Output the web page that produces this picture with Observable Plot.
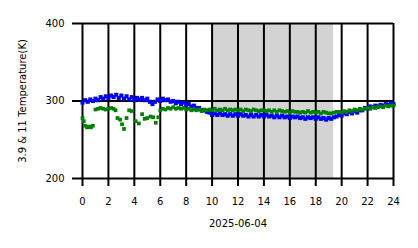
<!DOCTYPE html>
<html>
<head>
<meta charset="utf-8">
<script src="https://cdn.jsdelivr.net/npm/d3@7"></script>
<script src="https://cdn.jsdelivr.net/npm/@observablehq/plot@0.6"></script>
<style>
  html, body { margin: 0; padding: 0; background: #fff; }
  #chart svg { display: block; }
</style>
</head>
<body>
<div id="chart"></div>
<script>
// ---- data ----
const xTicks = [0, 2, 4, 6, 8, 10, 12, 14, 16, 18, 20, 22, 24];
const yTicks = [200, 300, 400];
const dateLabel = "2025-06-04";
const yLabel = "3.9 & 11 Temperature(K)";
const shade = [10.08, 19.38];

// 3.9 µm brightness temperature, sampled every 0.2 h from 0 to 24
const blueStep = 0.2;
const blueValues = [
  298, 301, 299, 302, 300,
  303, 301, 305, 303, 306,
  304, 307, 305, 308, 304,
  307, 303, 306, 302, 305,
  301, 304, 302, 304, 301,
  303, 299, 296, 299, 302,
  300, 303, 301, 302, 299,
  300, 297, 299, 296, 298,
  295, 296, 293, 294, 291,
  291, 288, 288, 286, 285,
  282, 284, 282, 284, 282,
  283, 281, 283, 281, 283,
  281, 283, 281, 282, 280,
  282, 280, 282, 280, 282,
  280, 282, 280, 281, 279,
  281, 279, 281, 279, 280,
  278, 280, 279, 280, 278,
  279, 277, 279, 278, 279,
  277, 279, 277, 278, 276,
  278, 277, 279, 280, 282,
  281, 284, 283, 286, 284,
  287, 285, 288, 288, 291,
  290, 293, 292, 294, 293,
  295, 294, 296, 295, 297,
  296
];

// 11 µm brightness temperature: early irregular samples
const greenEarlyTimes = [0.0, 0.1, 0.2, 0.35, 0.5, 0.65, 0.8, 1.0, 1.2, 1.4, 1.6, 1.8, 2.0, 2.2, 2.4, 2.55,
  2.7, 2.9, 3.05, 3.2, 3.4, 3.6, 3.8, 4.1, 4.35, 4.6, 4.8, 5.0, 5.25, 5.45, 5.65, 5.85];
const greenEarlyValues = [278, 274, 268, 266, 267, 266, 268, 289, 290, 291, 290, 289, 290, 291, 290, 288,
  278, 276, 270, 264, 278, 288, 287, 274, 271, 283, 277, 278, 280, 279, 272, 279];
// 11 µm, every 0.2 h from 6.0 to 24
const greenStart = 6.0;
const greenValues = [
  288, 290, 289, 291, 290,
  292, 290, 291, 290, 291,
  289, 290, 288, 289, 288,
  289, 287, 289, 288, 289,
  288, 290, 288, 289, 288,
  290, 288, 289, 288, 289,
  288, 289, 287, 289, 288,
  287, 289, 288, 287, 288,
  288, 287, 288, 286, 288,
  286, 288, 287, 286, 287,
  285, 287, 286, 286, 285,
  286, 285, 287, 285, 286,
  285, 286, 284, 286, 285,
  284, 284, 285, 286, 286,
  285, 287, 286, 288, 287,
  289, 288, 290, 289, 290,
  291, 290, 292, 291, 292,
  293, 292, 294, 293, 294,
  294
];

// ---- build tables ----
const blue = blueValues.map((v, i) => ({t: i * blueStep, v}));
const green = [
  ...greenEarlyTimes.map((t, i) => ({t, v: greenEarlyValues[i]})),
  ...greenValues.map((v, i) => ({t: greenStart + i * 0.2, v}))
];

const chart = Plot.plot({
  width: 418,
  height: 248,
  marginLeft: 82,
  marginRight: 25,
  marginTop: 23,
  marginBottom: 70,
  style: {fontFamily: "DejaVu Sans", fontSize: "10px", background: "#fff", color: "#000"},
  x: {domain: [0, 24]},
  y: {domain: [200, 400]},
  marks: [
    Plot.rect([shade], {x1: d => d[0], x2: d => d[1], y1: 200, y2: 400, fill: "#d3d3d3"}),
    Plot.ruleX(xTicks, {stroke: "#000", strokeWidth: 2}),
    Plot.ruleY(yTicks, {stroke: "#000", strokeWidth: 2}),
    Plot.axisX(xTicks, {tickSize: 8, tickPadding: 11, strokeWidth: 2, fontSize: 10,
      label: dateLabel, labelAnchor: "center", labelArrow: "none", labelOffset: 48}),
    Plot.axisY(yTicks, {tickSize: 10, tickPadding: 8, strokeWidth: 2, fontSize: 10,
      label: yLabel, labelAnchor: "center", labelArrow: "none", labelOffset: 64}),
    Plot.dot(blue, {x: "t", y: "v", symbol: "square", r: 2.3, fill: "blue", stroke: "none"}),
    Plot.dot(green, {x: "t", y: "v", symbol: "square", r: 2.1, fill: "green", stroke: "none"})
  ]
});
document.getElementById("chart").append(chart);
</script>
</body>
</html>
